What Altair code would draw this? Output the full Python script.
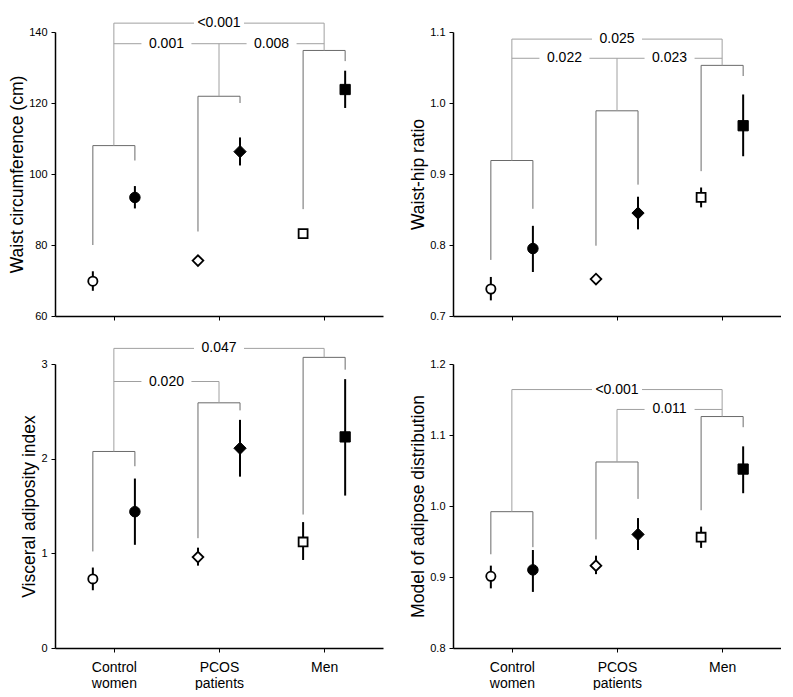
import json
import altair as alt
import pandas as pd

# ---------------- data ----------------
GROUPS = ["Control women", "PCOS patients", "Men"]
GROUP_LINES = [["Control", "women"], ["PCOS", "patients"], ["Men"]]
SHAPES = ["circle", "diamond", "square"]

# Panel 1: waist circumference
WC_TITLE = "Waist circumference (cm)"
WC_DOMAIN = [60, 140]
WC_TICKS = [60, 80, 100, 120, 140]
WC_OPEN = [69.8, 75.6, 83.2]
WC_OPEN_LO = [67.1, 74.8, 81.9]
WC_OPEN_HI = [72.6, 76.4, 84.4]
WC_FILL = [93.4, 106.3, 123.8]
WC_FILL_LO = [90.3, 102.4, 118.6]
WC_FILL_HI = [96.6, 110.3, 129.1]
WC_BR_TOP = [108.0, 121.9, 134.8]
WC_LEG_OPEN = [80.0, 83.8, 90.1]
WC_LEG_FILL = [103.8, 120.0, 131.8]
WC_STEM_TOP = [142.5, 136.7, 142.5]
WC_LINK_FROM = [1, 1, 2]
WC_LINK_TO = [3, 2, 3]
WC_LINK_LEVEL = [142.5, 136.7, 136.7]
WC_LINK_P = ["<0.001", "0.001", "0.008"]

# Panel 2: waist-hip ratio
WHR_TITLE = "Waist-hip ratio"
WHR_DOMAIN = [0.7, 1.1]
WHR_TICKS = [0.7, 0.8, 0.9, 1.0, 1.1]
WHR_OPEN = [0.738, 0.752, 0.867]
WHR_OPEN_LO = [0.722, 0.747, 0.853]
WHR_OPEN_HI = [0.755, 0.757, 0.881]
WHR_FILL = [0.795, 0.845, 0.968]
WHR_FILL_LO = [0.762, 0.822, 0.925]
WHR_FILL_HI = [0.827, 0.868, 1.012]
WHR_BR_TOP = [0.919, 0.989, 1.053]
WHR_LEG_OPEN = [0.779, 0.799, 0.904]
WHR_LEG_FILL = [0.851, 0.885, 1.038]
WHR_STEM_TOP = [1.090, 1.063, 1.090]
WHR_LINK_FROM = [1, 1, 2]
WHR_LINK_TO = [3, 2, 3]
WHR_LINK_LEVEL = [1.090, 1.063, 1.063]
WHR_LINK_P = ["0.025", "0.022", "0.023"]

# Panel 3: visceral adiposity index
VAI_TITLE = "Visceral adiposity index"
VAI_DOMAIN = [0, 3]
VAI_TICKS = [0, 1, 2, 3]
VAI_OPEN = [0.73, 0.96, 1.12]
VAI_OPEN_LO = [0.61, 0.87, 0.93]
VAI_OPEN_HI = [0.85, 1.06, 1.33]
VAI_FILL = [1.44, 2.11, 2.23]
VAI_FILL_LO = [1.09, 1.81, 1.61]
VAI_FILL_HI = [1.79, 2.41, 2.84]
VAI_BR_TOP = [2.076, 2.59, 3.07]
VAI_LEG_OPEN = [1.02, 1.16, 1.41]
VAI_LEG_FILL = [1.92, 2.51, 2.94]
VAI_STEM_TOP = [3.165, 2.815, 3.165]
VAI_LINK_FROM = [1, 1]
VAI_LINK_TO = [3, 2]
VAI_LINK_LEVEL = [3.165, 2.815]
VAI_LINK_P = ["0.047", "0.020"]

# Panel 4: model of adipose distribution
MAD_TITLE = "Model of adipose distribution"
MAD_DOMAIN = [0.8, 1.2]
MAD_TICKS = [0.8, 0.9, 1.0, 1.1, 1.2]
MAD_OPEN = [0.901, 0.916, 0.956]
MAD_OPEN_LO = [0.884, 0.904, 0.941]
MAD_OPEN_HI = [0.916, 0.930, 0.971]
MAD_FILL = [0.910, 0.960, 1.052]
MAD_FILL_LO = [0.879, 0.938, 1.018]
MAD_FILL_HI = [0.938, 0.983, 1.084]
MAD_BR_TOP = [0.992, 1.062, 1.126]
MAD_LEG_OPEN = [0.932, 0.953, 0.994]
MAD_LEG_FILL = [0.942, 1.010, 1.111]
MAD_STEM_TOP = [1.164, 1.136, 1.164]
MAD_LINK_FROM = [1, 2]
MAD_LINK_TO = [3, 3]
MAD_LINK_LEVEL = [1.164, 1.136]
MAD_LINK_P = ["<0.001", "0.011"]

# ---------------- layout ----------------
W, H = 328, 284
X_DOMAIN = [0.44, 3.56]
OFF = 0.2
PX_PER_UNIT = W / (X_DOMAIN[1] - X_DOMAIN[0])
GAP = 25 / PX_PER_UNIT
FONT = "Liberation Sans"
OPEN_SIZE = {"circle": 85, "diamond": 115, "square": 80}
FILL_SIZE = {"circle": 110, "diamond": 150, "square": 105}

LABEL_EXPR = " : ".join(
    f"datum.value == {i + 1} ? {json.dumps(lines)}" for i, lines in enumerate(GROUP_LINES[:-1])
) + f" : {json.dumps(GROUP_LINES[-1])}"


def make_panel(title, domain, ticks, fmt, op, op_lo, op_hi, fi, fi_lo, fi_hi,
               br_top, leg_open, leg_fill, stem_top, lk_from, lk_to, lk_level, lk_p, bottom):
    xs_open = [i + 1 - OFF for i in range(3)]
    xs_fill = [i + 1 + OFF for i in range(3)]
    pts = pd.DataFrame({
        "x": xs_open + xs_fill,
        "y": op + fi,
        "lo": op_lo + fi_lo,
        "hi": op_hi + fi_hi,
        "kind": ["open"] * 3 + ["filled"] * 3,
        "group": GROUPS * 2,
        "shape": SHAPES * 2,
        "sz": [OPEN_SIZE[s] for s in SHAPES] + [FILL_SIZE[s] for s in SHAPES],
    })
    segs = []
    for i in range(3):
        c = i + 1
        l, r = c - OFF, c + OFF
        t = br_top[i]
        segs += [
            (l, r, t, t, "b"),
            (l, l, t, leg_open[i], "b"),
            (r, r, t, leg_fill[i], "b"),
            (c, c, t, stem_top[i], "l"),
        ]
    labs = []
    for a, b, lev, txt in zip(lk_from, lk_to, lk_level, lk_p):
        m = (a + b) / 2
        segs += [(a, m - GAP, lev, lev, "l"), (m + GAP, b, lev, lev, "l")]
        labs.append((m, lev, txt))
    seg_df = pd.DataFrame(segs, columns=["x", "x2", "y", "y2", "kind"])
    lab_df = pd.DataFrame(labs, columns=["x", "y", "txt"])

    xaxis = alt.Axis(values=[1, 2, 3], labels=bottom, labelExpr=LABEL_EXPR, title=None,
                     labelFlush=False, ticks=True)
    yaxis = alt.Axis(values=ticks, format=fmt, title=title)
    xs = alt.Scale(domain=X_DOMAIN, nice=False, zero=False)
    ys = alt.Scale(domain=domain, nice=False, zero=False)

    def X(f):
        return alt.X(f"{f}:Q", scale=xs, axis=xaxis, title=None)

    def Y(f):
        return alt.Y(f"{f}:Q", scale=ys, axis=yaxis, title=title)

    lines = alt.Chart(seg_df).mark_rule(strokeWidth=1).encode(
        x=X("x"), x2="x2:Q", y=Y("y"), y2="y2:Q",
        color=alt.Color("kind:N", scale=alt.Scale(domain=["b", "l"], range=["#6a6a6a", "#a0a0a0"]), legend=None),
    )
    err = alt.Chart(pts).mark_rule(strokeWidth=2, color="black").encode(
        x=X("x"), y=Y("lo"), y2="hi:Q"
    )
    open_pts = alt.Chart(pts).transform_filter("datum.kind == 'open'").mark_point(
        filled=True, fill="white", stroke="black", strokeWidth=1.8, opacity=1
    ).encode(
        x=X("x"), y=Y("y"),
        shape=alt.Shape("shape:N", scale=None),
        size=alt.Size("sz:Q", scale=None),
    )
    fill_pts = alt.Chart(pts).transform_filter("datum.kind == 'filled'").mark_point(
        filled=True, fill="black", stroke="black", strokeWidth=1, opacity=1
    ).encode(
        x=X("x"), y=Y("y"),
        shape=alt.Shape("shape:N", scale=None),
        size=alt.Size("sz:Q", scale=None),
    )
    text = alt.Chart(lab_df).mark_text(
        font=FONT, fontSize=14, color="black", align="center", baseline="middle"
    ).encode(x=X("x"), y=Y("y"), text="txt:N")

    return alt.layer(lines, err, open_pts, fill_pts, text).properties(width=W, height=H)


p1 = make_panel(WC_TITLE, WC_DOMAIN, WC_TICKS, "d", WC_OPEN, WC_OPEN_LO, WC_OPEN_HI,
                WC_FILL, WC_FILL_LO, WC_FILL_HI, WC_BR_TOP, WC_LEG_OPEN, WC_LEG_FILL,
                WC_STEM_TOP, WC_LINK_FROM, WC_LINK_TO, WC_LINK_LEVEL, WC_LINK_P, False)
p2 = make_panel(WHR_TITLE, WHR_DOMAIN, WHR_TICKS, ".1f", WHR_OPEN, WHR_OPEN_LO, WHR_OPEN_HI,
                WHR_FILL, WHR_FILL_LO, WHR_FILL_HI, WHR_BR_TOP, WHR_LEG_OPEN, WHR_LEG_FILL,
                WHR_STEM_TOP, WHR_LINK_FROM, WHR_LINK_TO, WHR_LINK_LEVEL, WHR_LINK_P, False)
p3 = make_panel(VAI_TITLE, VAI_DOMAIN, VAI_TICKS, "d", VAI_OPEN, VAI_OPEN_LO, VAI_OPEN_HI,
                VAI_FILL, VAI_FILL_LO, VAI_FILL_HI, VAI_BR_TOP, VAI_LEG_OPEN, VAI_LEG_FILL,
                VAI_STEM_TOP, VAI_LINK_FROM, VAI_LINK_TO, VAI_LINK_LEVEL, VAI_LINK_P, True)
p4 = make_panel(MAD_TITLE, MAD_DOMAIN, MAD_TICKS, ".1f", MAD_OPEN, MAD_OPEN_LO, MAD_OPEN_HI,
                MAD_FILL, MAD_FILL_LO, MAD_FILL_HI, MAD_BR_TOP, MAD_LEG_OPEN, MAD_LEG_FILL,
                MAD_STEM_TOP, MAD_LINK_FROM, MAD_LINK_TO, MAD_LINK_LEVEL, MAD_LINK_P, True)

chart = alt.concat(
    p1, p2, p3, p4, columns=2, spacing={"row": 48, "column": 70}, bounds="flush"
).configure_view(stroke=None).configure_axis(
    domainColor="black", domainWidth=1.5, tickColor="black", tickWidth=1, tickSize=4,
    labelFont=FONT, labelFontSize=11, labelColor="black", labelPadding=4,
    titleFont=FONT, titleFontSize=17.5, titleFontWeight="normal", titleColor="black",
    titlePadding=2, grid=False,
).configure_axisX(
    labelFontSize=14, labelPadding=8, labelLineHeight=16
).properties(background="white", padding={"top": 8, "left": 0, "right": 0, "bottom": 0})

chart.save("out.html", embed_options={"renderer": "svg", "actions": False})
